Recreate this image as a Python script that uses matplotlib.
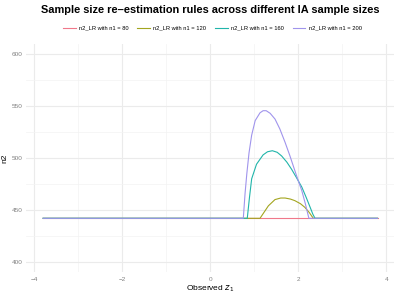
import matplotlib
matplotlib.use("Agg")
import matplotlib.pyplot as plt
from matplotlib.ticker import MultipleLocator

plt.rcParams['font.family'] = ['Liberation Sans', 'DejaVu Sans']

# values
base = 442
z80 = [-3.8, 3.8]
n80 = [base, base]

z120 = [-3.8, 1.13, 1.32, 1.47, 1.60, 1.70, 1.82, 1.92, 2.05, 2.15, 2.25, 2.34, 3.8]
n120 = [base, base, 454, 460, 461.5, 461.5, 460.5, 459, 456, 452.5, 447.5, 442, base]

z160 = [-3.8, 0.84, 0.89, 0.94, 1.05, 1.20, 1.30, 1.41, 1.52, 1.62, 1.74, 1.85, 1.96, 2.08, 2.18, 2.27, 2.33, 2.38, 3.8]
n160 = [base, base, 462, 480, 494, 503, 506, 507, 505.5, 502, 496, 489, 481, 472, 462, 452.5, 446, 442, base]

z200 = [-3.8, 0.75, 0.79, 0.83, 0.88, 0.94, 1.02, 1.13, 1.20, 1.27, 1.36, 1.47, 1.58, 1.70, 1.81, 1.92, 2.00, 2.08, 2.16, 2.24, 3.8]
n200 = [base, base, 466, 485, 505, 522, 536, 543.5, 545.5, 545.5, 543, 537.5, 528, 515, 502, 488, 478, 468.5, 456, 442, base]

labels = ["n2_LR with n1 = 80", "n2_LR with n1 = 120", "n2_LR with n1 = 160", "n2_LR with n1 = 200"]
colors = ["#F0788A", "#A3A51F", "#21B5AA", "#A094EC"]

fig = plt.figure(figsize=(3.97, 2.97), dpi=100)
ax = fig.add_axes([0.0665, 0.083, 0.9265, 0.770])

for zs, ns, lab, col in zip([z80, z120, z160, z200], [n80, n120, n160, n200], labels, colors):
    ax.plot(zs, ns, color=col, lw=0.8, label=lab)

ax.set_xlim(-4.18, 4.18)
ax.set_ylim(390, 610)
ax.xaxis.set_major_locator(MultipleLocator(2))
ax.xaxis.set_minor_locator(MultipleLocator(1))
ax.yaxis.set_major_locator(MultipleLocator(50))
ax.yaxis.set_minor_locator(MultipleLocator(25))
ax.grid(which='major', color='#EBEBEB', lw=0.8)
ax.grid(which='minor', color='#F3F3F3', lw=0.5)
ax.set_axisbelow(True)
for s in ax.spines.values():
    s.set_visible(False)
ax.tick_params(which='both', length=0, labelsize=4.6, colors='#808080', pad=3)

ax.set_xlabel("Observed $z_1$", fontsize=6, labelpad=1.5)
ax.set_ylabel("n2", fontsize=6, labelpad=2)

fig.suptitle("Sample size re\u2013estimation rules across different IA sample sizes",
             x=0.53, y=0.982, fontsize=7.9, fontweight='bold')
fig.legend(*ax.get_legend_handles_labels(), loc='center', bbox_to_anchor=(0.535, 0.905),
           ncol=4, frameon=False, fontsize=4.15, handlelength=2.2, columnspacing=1.5,
           handletextpad=0.6)

fig.savefig("out.png", dpi=100)
